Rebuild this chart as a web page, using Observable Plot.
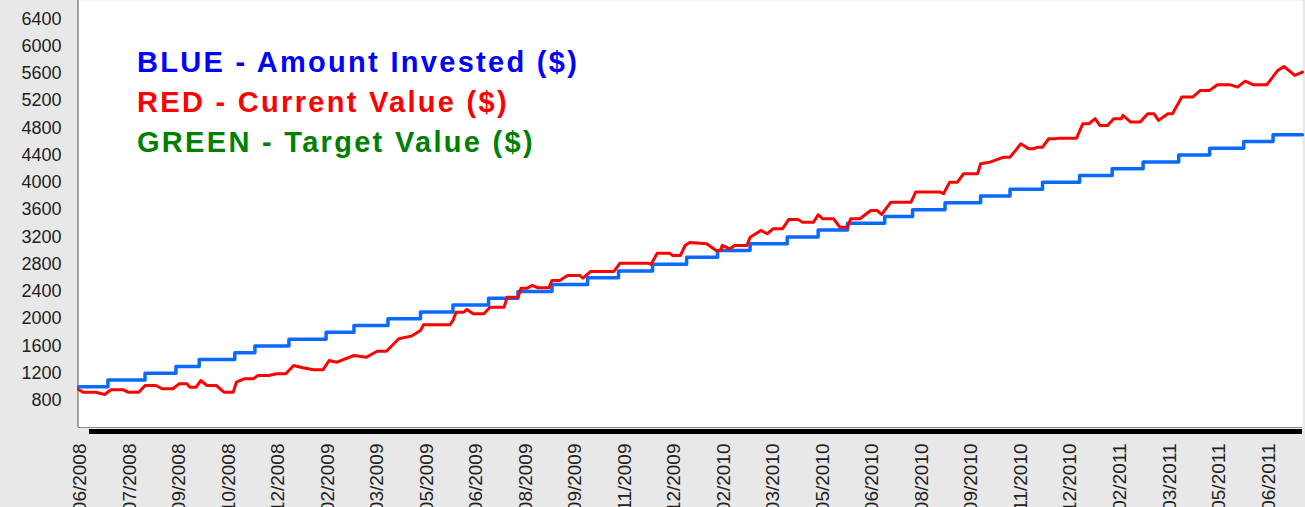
<!DOCTYPE html>
<html>
<head>
<meta charset="utf-8">
<script src="https://cdn.jsdelivr.net/npm/d3@7"></script>
<script src="https://cdn.jsdelivr.net/npm/@observablehq/plot@0.6"></script>
<style>
  html, body { margin: 0; padding: 0; background: #e8e8e8; overflow: hidden; }
  #wrap { position: relative; width: 1305px; height: 507px; }
  #legend { position: absolute; left: 137px; top: 42px; font: bold 29px "Liberation Sans", Arial, sans-serif; letter-spacing: 2.3px; line-height: 40px; white-space: nowrap; }
</style>
</head>
<body>
<div id="wrap"><div id="chart"></div><div id="legend"></div></div>
<script>
// Trading-day index of the x axis
const xDomain = [0, 791];
const yDomain = [404, 6668];

// x tick labels (month/year) and the trading-day index where each sits
const tickDays = [1,33,65,97,129,161,193,225,257,289,321,353,385,417,449,481,513,545,577,609,641,673,705,737,769];
const tickLabels = ["06/2008","07/2008","09/2008","10/2008","12/2008","02/2009","03/2009","05/2009","06/2009","08/2009","09/2009","11/2009","12/2009","02/2010","03/2010","05/2010","06/2010","08/2010","09/2010","11/2010","12/2010","02/2011","03/2011","05/2011","06/2011"];
const yTicks = [800,1200,1600,2000,2400,2800,3200,3600,4000,4400,4800,5200,5600,6000,6400];

// BLUE - Amount Invested ($): step series
const investDays = [0,19,43,63,78,101,114,136,160,178,200,221,242,265,284,306,329,349,371,393,413,434,458,478,497,521,539,560,583,602,623,647,668,688,711,731,753,772,791];
const investValues = [1000,1100,1200,1300,1400,1500,1600,1700,1800,1900,2000,2100,2200,2300,2400,2500,2600,2700,2800,2900,3000,3100,3200,3300,3400,3500,3600,3700,3800,3900,4000,4100,4200,4300,4400,4500,4600,4700,4700];

// RED - Current Value ($)
const valueDays = [0,3,11,17,21,29,32,39,43,50,54,61,65,70,72,76,79,83,89,94,100,102,107,113,116,123,128,134,139,145,152,158,162,167,178,186,193,199,207,215,221,223,240,242,244,249,251,255,262,266,275,277,284,286,290,293,297,304,306,311,316,324,326,331,346,350,368,370,374,382,384,389,392,395,406,412,415,416,421,424,432,434,441,445,449,455,459,465,468,475,478,481,488,492,497,499,505,512,516,519,525,538,541,557,559,563,568,572,581,583,589,598,602,609,614,617,620,623,627,631,634,645,649,653,657,660,665,669,674,675,680,686,691,695,698,704,707,713,720,725,731,736,744,749,754,759,768,775,779,786,791];
const valueValues = [961,922,922,888,957,957,922,922,1020,1020,972,972,1045,1045,995,995,1093,1020,1020,922,922,1069,1118,1118,1167,1167,1192,1192,1314,1280,1250,1250,1387,1362,1460,1435,1523,1523,1705,1744,1827,1911,1911,1974,2096,2096,2135,2072,2072,2169,2169,2316,2316,2448,2448,2488,2454,2454,2561,2561,2634,2634,2595,2693,2693,2815,2815,2796,2961,2961,2928,2928,3074,3118,3099,3001,3001,3074,3026,3074,3074,3196,3295,3246,3320,3320,3456,3456,3416,3416,3525,3466,3466,3343,3343,3466,3466,3588,3588,3529,3710,3710,3857,3857,3833,4003,4003,4127,4127,4273,4297,4370,4370,4567,4493,4493,4517,4517,4640,4640,4649,4649,4860,4860,4934,4835,4835,4934,4934,4982,4884,4884,5007,5007,4909,5007,5007,5251,5251,5349,5349,5433,5433,5397,5485,5433,5433,5642,5701,5569,5617];

const legendItems = ["BLUE - Amount Invested ($)", "RED - Current Value ($)", "GREEN - Target Value ($)"];
const legendColors = ["#0000ff", "#ff0000", "#008000"];

const invested = investDays.map((d, i) => ({day: d, value: investValues[i]}));
const current = valueDays.map((d, i) => ({day: d, value: valueValues[i]}));
const labelMap = new Map(tickDays.map((d, i) => [d, tickLabels[i]]));

const chart = Plot.plot({
  width: 1305,
  height: 507,
  marginLeft: 78,
  marginRight: 3,
  marginTop: 0,
  marginBottom: 80,
  style: {background: "#e8e8e8", fontFamily: "'Liberation Sans', Arial, sans-serif", color: "#1a1a1a"},
  x: {domain: xDomain, axis: null},
  y: {domain: yDomain, axis: null},
  marks: [
    Plot.frame({fill: "white", stroke: null}),
    Plot.ruleY([yDomain[0]], {stroke: "black", strokeWidth: 5, dy: 4, insetLeft: 11}),
    Plot.ruleY([yDomain[0]], {stroke: "#8a8a8a", strokeWidth: 1}),
    Plot.ruleX([xDomain[0]], {stroke: "#555", strokeWidth: 1, dx: -0.5}),
    Plot.axisY(yTicks, {label: null, tickSize: 0, tickPadding: 17, fontSize: 18, tickFormat: d => String(d), fill: "#222"}),
    Plot.axisX(tickDays, {label: null, tickSize: 0, tickPadding: 16, tickRotate: -90, fontSize: 19, tickFormat: d => labelMap.get(d), fill: "#222"}),
    Plot.line(invested, {x: "day", y: "value", curve: "step-after", stroke: "#0a6aff", strokeWidth: 3.5}),
    Plot.line(current, {x: "day", y: "value", stroke: "#ff0000", strokeWidth: 3})
  ]
});
document.getElementById("chart").appendChild(chart);

const legend = document.getElementById("legend");
legendItems.forEach((t, i) => {
  const div = document.createElement("div");
  div.textContent = t;
  div.style.color = legendColors[i];
  legend.appendChild(div);
});
</script>
</body>
</html>
